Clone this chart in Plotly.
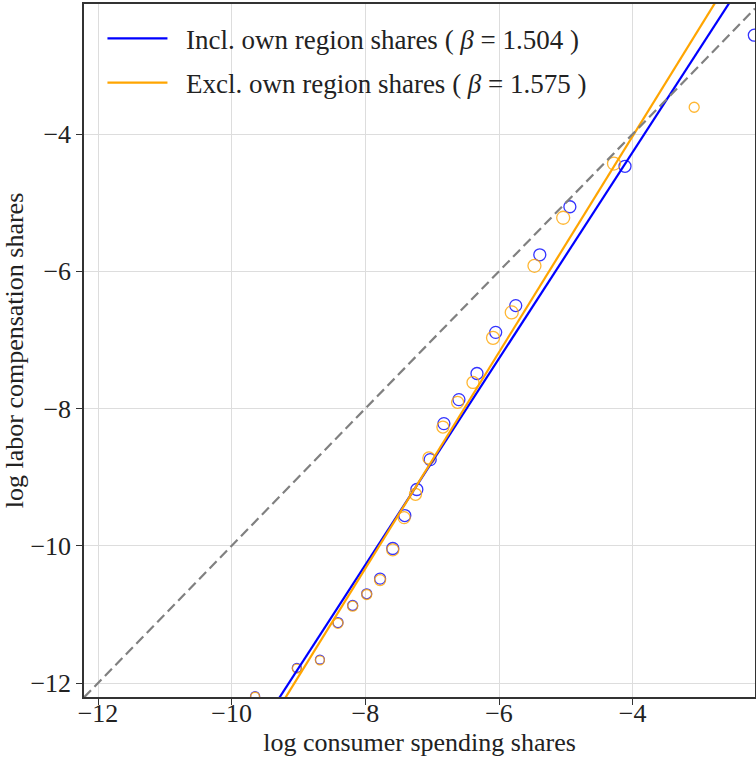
import plotly.graph_objects as go

# ---- data ----
incl_x = [-2.18, -4.115, -4.94, -5.39, -5.75, -6.05, -6.33, -6.60, -6.825, -7.03,
          -7.23, -7.41, -7.59, -7.78, -7.98, -8.19, -8.41, -8.68, -9.025, -9.65]
incl_y = [-2.56, -4.47, -5.06, -5.76, -6.50, -6.89, -7.49, -7.87, -8.22, -8.745,
          -9.18, -9.56, -10.04, -10.48, -10.70, -10.87, -11.12, -11.66, -11.78, -12.19]
excl_x = [-3.08, -4.28, -5.04, -5.47, -5.81, -6.09, -6.39, -6.62, -6.84, -7.05,
          -7.25, -7.42, -7.59, -7.78, -7.98, -8.19, -8.41, -8.68, -9.025, -9.65]
excl_y = [-3.61, -4.43, -5.22, -5.92, -6.60, -6.97, -7.62, -7.91, -8.27, -8.72,
          -9.25, -9.59, -10.06, -10.50, -10.71, -10.88, -11.13, -11.67, -11.79, -12.20]
point_size = [12, 12, 12, 12, 12, 12, 12, 12, 12, 12,
              12, 12, 12, 11, 10, 10, 10, 9, 9, 9]
excl_size = [10, 13, 13, 13, 13, 13, 12, 12, 12, 12,
             12, 12, 12, 11, 10, 10, 10, 9, 9, 9]
beta_incl, icpt_incl = 1.504, 1.753
beta_excl, icpt_excl = 1.575, 2.27
tick_vals = [-12, -10, -8, -6, -4]

x_range = [-12.21, -2.17]
y_range = [-12.204, -2.105]

BLUE = "#0000ff"
ORANGE = "#ffa500"
FONT = "Liberation Serif"

fig = go.Figure()

fig.add_trace(go.Scatter(
    x=incl_x, y=incl_y, mode="markers", showlegend=False,
    marker=dict(symbol="circle-open", size=point_size, color=BLUE,
                line=dict(width=1.3, color=BLUE), opacity=0.8)))
fig.add_trace(go.Scatter(
    x=excl_x, y=excl_y, mode="markers", showlegend=False,
    marker=dict(symbol="circle-open", size=excl_size, color=ORANGE,
                line=dict(width=1.3, color=ORANGE), opacity=0.8)))

lx = [x_range[0], x_range[1]]
fig.add_trace(go.Scatter(
    x=lx, y=[icpt_incl + beta_incl * v for v in lx], mode="lines",
    line=dict(color=BLUE, width=2.2), legendgroup="a",
    name=f"\u2002Incl. own region shares ( <i>β</i> = {beta_incl:.3f} )"))
fig.add_trace(go.Scatter(
    x=lx, y=[icpt_excl + beta_excl * v for v in lx], mode="lines",
    line=dict(color=ORANGE, width=2.2), legendgroup="b",
    name=f"\u2002Excl. own region shares ( <i>β</i> = {beta_excl:.3f} )"))
fig.add_trace(go.Scatter(
    x=lx, y=lx, mode="lines", showlegend=False,
    line=dict(color="gray", width=2.2, dash="10px,5px")))

axis_common = dict(
    showgrid=True, gridcolor="#dddddd", gridwidth=1,
    showline=True, linecolor="#333333", linewidth=1.5, mirror=True,
    ticks="outside", ticklen=6, tickcolor="#333333", tickwidth=1.2,
    tickvals=tick_vals, zeroline=False, automargin=False,
    tickfont=dict(family=FONT, size=26, color="#222222"),
)

fig.update_layout(
    width=756, height=757,
    margin=dict(l=84, r=1, t=4, b=60),
    paper_bgcolor="white", plot_bgcolor="white",
    font=dict(family=FONT, size=26, color="#222222"),
    xaxis=dict(range=x_range, ticklabelstandoff=-14,
               title=dict(text="log consumer spending shares",
               font=dict(family=FONT, size=26), standoff=8), **axis_common),
    yaxis=dict(range=y_range, title=dict(text="log labor compensation shares",
               font=dict(family=FONT, size=26), standoff=6), **axis_common),
    legend=dict(x=0.0275, y=0.985, xanchor="left", yanchor="top",
                bgcolor="rgba(0,0,0,0)", font=dict(family=FONT, size=27),
                itemwidth=60, tracegroupgap=6),
)

fig.write_html("out.html")
